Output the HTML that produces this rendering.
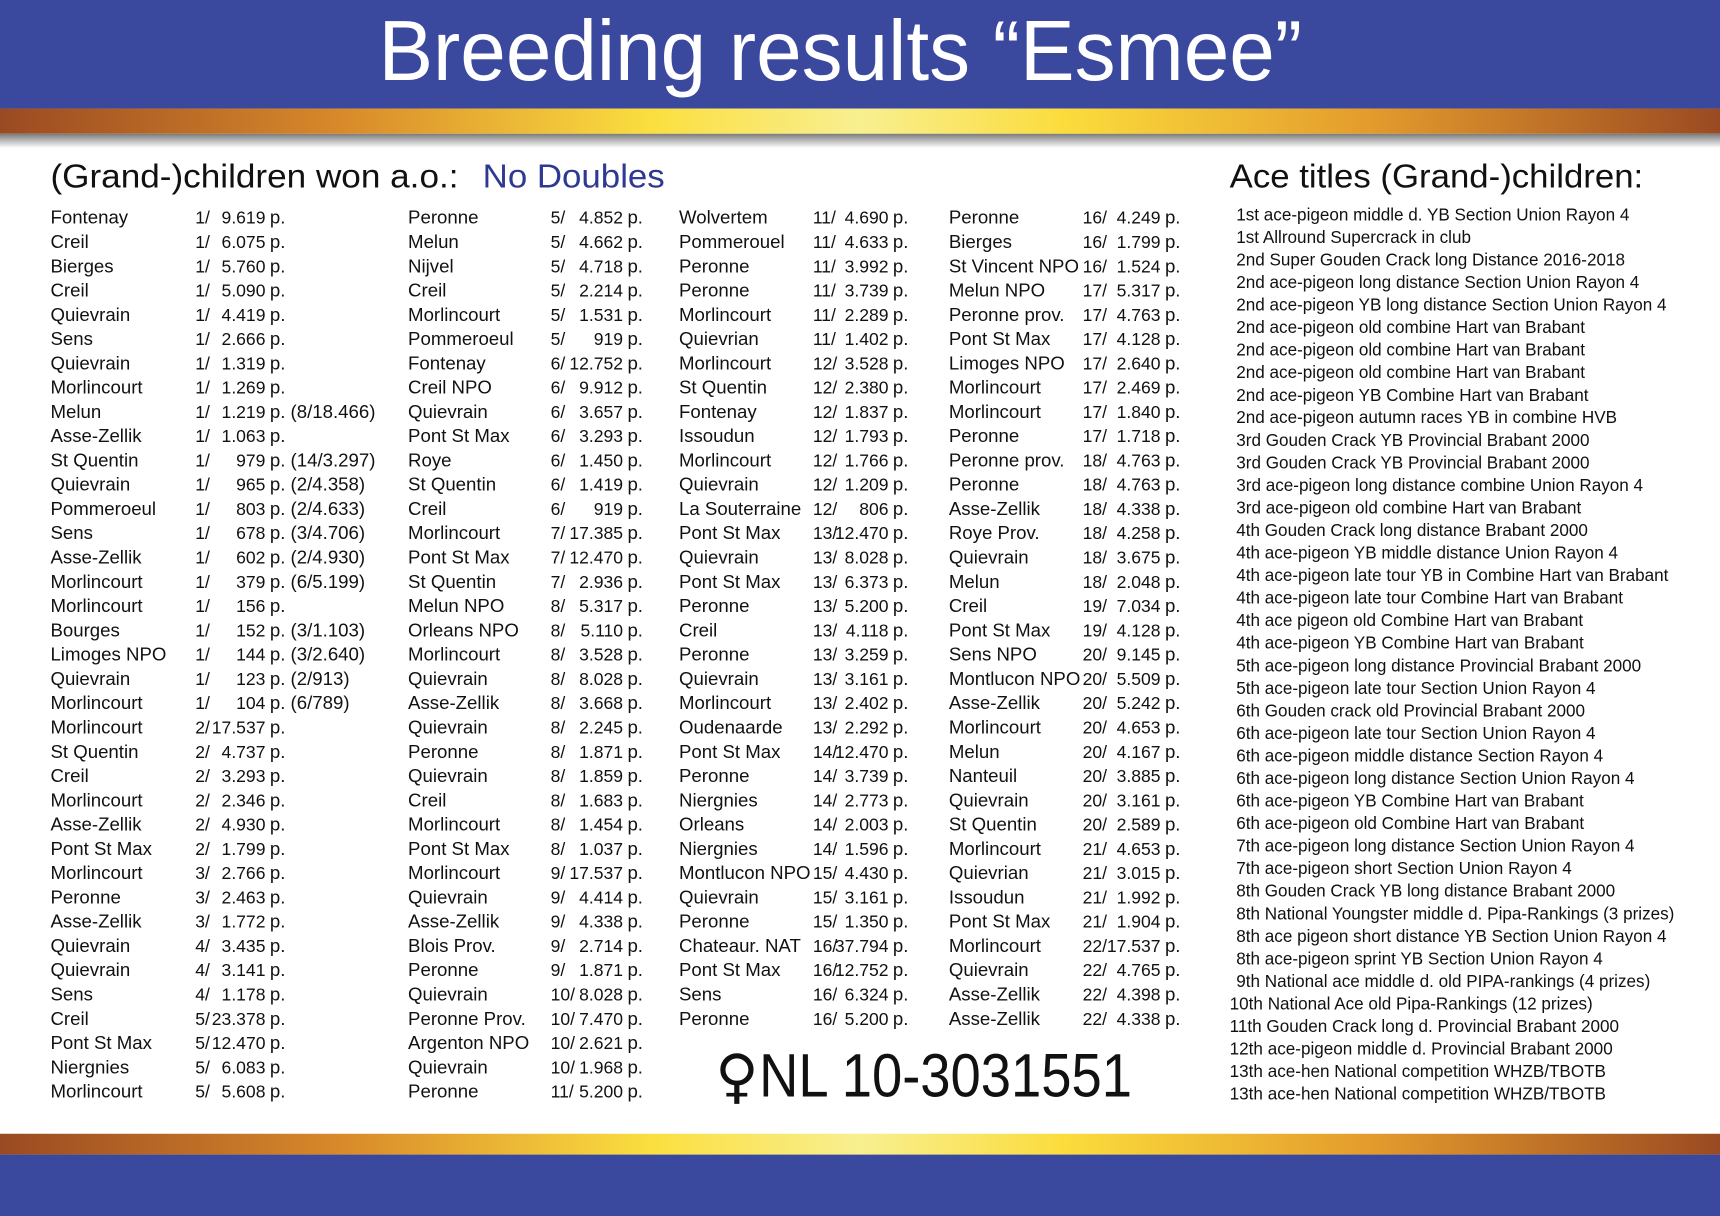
<!DOCTYPE html>
<html><head><meta charset="utf-8"><style>
html,body{margin:0;padding:0;background:#fff;}
svg{display:block;}
text{font-family:"Liberation Sans",sans-serif;fill:#111;}
.t text{font-size:17px;}
.t text.n{font-size:16px;}
.r text{font-size:15.6px;}
</style></head><body>
<svg width="1720" height="1216" viewBox="0 0 1568 1109" preserveAspectRatio="none" xmlns="http://www.w3.org/2000/svg">
<defs>
<linearGradient id="gold" x1="0" x2="1" y1="0" y2="0">
<stop offset="0" stop-color="#9a4a22"/><stop offset="0.2" stop-color="#d98a2a"/><stop offset="0.38" stop-color="#fbdf40"/><stop offset="0.5" stop-color="#f8ef90"/><stop offset="0.62" stop-color="#fbdc3c"/><stop offset="0.8" stop-color="#e39a2c"/><stop offset="1" stop-color="#9a4a22"/>
</linearGradient>
<linearGradient id="sh" x1="0" x2="0" y1="0" y2="1"><stop offset="0" stop-color="#7a7a7a"/><stop offset="1" stop-color="#fff"/></linearGradient>
</defs>
<rect x="0" y="0" width="1568" height="99" fill="#3a489e"/>
<rect x="0" y="99" width="1568" height="23" fill="url(#gold)"/>
<rect x="0" y="122" width="1568" height="13" fill="url(#sh)"/>
<rect x="0" y="1034" width="1568" height="19" fill="url(#gold)"/>
<rect x="0" y="1053" width="1568" height="56" fill="#3a489e"/>
<text x="345" y="73" font-size="78" textLength="842" lengthAdjust="spacingAndGlyphs" style="fill:#fff">Breeding results “Esmee”</text>
<text x="46" y="171" font-size="30" textLength="372" lengthAdjust="spacingAndGlyphs">(Grand-)children won a.o.:</text>
<text x="440" y="171" font-size="30" textLength="166" lengthAdjust="spacingAndGlyphs" style="fill:#2e3a92">No Doubles</text>
<text x="1121" y="171" font-size="30" textLength="377" lengthAdjust="spacingAndGlyphs">Ace titles (Grand-)children:</text>
<text x="652" y="1000" font-size="54" style="font-family:'DejaVu Sans',sans-serif">♀</text>
<text x="692" y="1000" font-size="56" textLength="340" lengthAdjust="spacingAndGlyphs">NL 10-3031551</text>

<g class="t">
<g>
<text x="46" y="204">Fontenay</text><text class="n" x="178" y="204">1/</text><text class="n" x="242" y="204" text-anchor="end">9.619</text><text x="246" y="204">p.</text>
<text x="46" y="226.1">Creil</text><text class="n" x="178" y="226.1">1/</text><text class="n" x="242" y="226.1" text-anchor="end">6.075</text><text x="246" y="226.1">p.</text>
<text x="46" y="248.3">Bierges</text><text class="n" x="178" y="248.3">1/</text><text class="n" x="242" y="248.3" text-anchor="end">5.760</text><text x="246" y="248.3">p.</text>
<text x="46" y="270.4">Creil</text><text class="n" x="178" y="270.4">1/</text><text class="n" x="242" y="270.4" text-anchor="end">5.090</text><text x="246" y="270.4">p.</text>
<text x="46" y="292.6">Quievrain</text><text class="n" x="178" y="292.6">1/</text><text class="n" x="242" y="292.6" text-anchor="end">4.419</text><text x="246" y="292.6">p.</text>
<text x="46" y="314.7">Sens</text><text class="n" x="178" y="314.7">1/</text><text class="n" x="242" y="314.7" text-anchor="end">2.666</text><text x="246" y="314.7">p.</text>
<text x="46" y="336.8">Quievrain</text><text class="n" x="178" y="336.8">1/</text><text class="n" x="242" y="336.8" text-anchor="end">1.319</text><text x="246" y="336.8">p.</text>
<text x="46" y="359">Morlincourt</text><text class="n" x="178" y="359">1/</text><text class="n" x="242" y="359" text-anchor="end">1.269</text><text x="246" y="359">p.</text>
<text x="46" y="381.1">Melun</text><text class="n" x="178" y="381.1">1/</text><text class="n" x="242" y="381.1" text-anchor="end">1.219</text><text x="246" y="381.1">p. (8/18.466)</text>
<text x="46" y="403.3">Asse-Zellik</text><text class="n" x="178" y="403.3">1/</text><text class="n" x="242" y="403.3" text-anchor="end">1.063</text><text x="246" y="403.3">p.</text>
<text x="46" y="425.4">St Quentin</text><text class="n" x="178" y="425.4">1/</text><text class="n" x="242" y="425.4" text-anchor="end">979</text><text x="246" y="425.4">p. (14/3.297)</text>
<text x="46" y="447.5">Quievrain</text><text class="n" x="178" y="447.5">1/</text><text class="n" x="242" y="447.5" text-anchor="end">965</text><text x="246" y="447.5">p. (2/4.358)</text>
<text x="46" y="469.7">Pommeroeul</text><text class="n" x="178" y="469.7">1/</text><text class="n" x="242" y="469.7" text-anchor="end">803</text><text x="246" y="469.7">p. (2/4.633)</text>
<text x="46" y="491.8">Sens</text><text class="n" x="178" y="491.8">1/</text><text class="n" x="242" y="491.8" text-anchor="end">678</text><text x="246" y="491.8">p. (3/4.706)</text>
<text x="46" y="514">Asse-Zellik</text><text class="n" x="178" y="514">1/</text><text class="n" x="242" y="514" text-anchor="end">602</text><text x="246" y="514">p. (2/4.930)</text>
<text x="46" y="536.1">Morlincourt</text><text class="n" x="178" y="536.1">1/</text><text class="n" x="242" y="536.1" text-anchor="end">379</text><text x="246" y="536.1">p. (6/5.199)</text>
<text x="46" y="558.2">Morlincourt</text><text class="n" x="178" y="558.2">1/</text><text class="n" x="242" y="558.2" text-anchor="end">156</text><text x="246" y="558.2">p.</text>
<text x="46" y="580.4">Bourges</text><text class="n" x="178" y="580.4">1/</text><text class="n" x="242" y="580.4" text-anchor="end">152</text><text x="246" y="580.4">p. (3/1.103)</text>
<text x="46" y="602.5">Limoges NPO</text><text class="n" x="178" y="602.5">1/</text><text class="n" x="242" y="602.5" text-anchor="end">144</text><text x="246" y="602.5">p. (3/2.640)</text>
<text x="46" y="624.7">Quievrain</text><text class="n" x="178" y="624.7">1/</text><text class="n" x="242" y="624.7" text-anchor="end">123</text><text x="246" y="624.7">p. (2/913)</text>
<text x="46" y="646.8">Morlincourt</text><text class="n" x="178" y="646.8">1/</text><text class="n" x="242" y="646.8" text-anchor="end">104</text><text x="246" y="646.8">p. (6/789)</text>
<text x="46" y="668.9">Morlincourt</text><text class="n" x="178" y="668.9">2/</text><text class="n" x="242" y="668.9" text-anchor="end">17.537</text><text x="246" y="668.9">p.</text>
<text x="46" y="691.1">St Quentin</text><text class="n" x="178" y="691.1">2/</text><text class="n" x="242" y="691.1" text-anchor="end">4.737</text><text x="246" y="691.1">p.</text>
<text x="46" y="713.2">Creil</text><text class="n" x="178" y="713.2">2/</text><text class="n" x="242" y="713.2" text-anchor="end">3.293</text><text x="246" y="713.2">p.</text>
<text x="46" y="735.4">Morlincourt</text><text class="n" x="178" y="735.4">2/</text><text class="n" x="242" y="735.4" text-anchor="end">2.346</text><text x="246" y="735.4">p.</text>
<text x="46" y="757.5">Asse-Zellik</text><text class="n" x="178" y="757.5">2/</text><text class="n" x="242" y="757.5" text-anchor="end">4.930</text><text x="246" y="757.5">p.</text>
<text x="46" y="779.6">Pont St Max</text><text class="n" x="178" y="779.6">2/</text><text class="n" x="242" y="779.6" text-anchor="end">1.799</text><text x="246" y="779.6">p.</text>
<text x="46" y="801.8">Morlincourt</text><text class="n" x="178" y="801.8">3/</text><text class="n" x="242" y="801.8" text-anchor="end">2.766</text><text x="246" y="801.8">p.</text>
<text x="46" y="823.9">Peronne</text><text class="n" x="178" y="823.9">3/</text><text class="n" x="242" y="823.9" text-anchor="end">2.463</text><text x="246" y="823.9">p.</text>
<text x="46" y="846.1">Asse-Zellik</text><text class="n" x="178" y="846.1">3/</text><text class="n" x="242" y="846.1" text-anchor="end">1.772</text><text x="246" y="846.1">p.</text>
<text x="46" y="868.2">Quievrain</text><text class="n" x="178" y="868.2">4/</text><text class="n" x="242" y="868.2" text-anchor="end">3.435</text><text x="246" y="868.2">p.</text>
<text x="46" y="890.3">Quievrain</text><text class="n" x="178" y="890.3">4/</text><text class="n" x="242" y="890.3" text-anchor="end">3.141</text><text x="246" y="890.3">p.</text>
<text x="46" y="912.5">Sens</text><text class="n" x="178" y="912.5">4/</text><text class="n" x="242" y="912.5" text-anchor="end">1.178</text><text x="246" y="912.5">p.</text>
<text x="46" y="934.6">Creil</text><text class="n" x="178" y="934.6">5/</text><text class="n" x="242" y="934.6" text-anchor="end">23.378</text><text x="246" y="934.6">p.</text>
<text x="46" y="956.8">Pont St Max</text><text class="n" x="178" y="956.8">5/</text><text class="n" x="242" y="956.8" text-anchor="end">12.470</text><text x="246" y="956.8">p.</text>
<text x="46" y="978.9">Niergnies</text><text class="n" x="178" y="978.9">5/</text><text class="n" x="242" y="978.9" text-anchor="end">6.083</text><text x="246" y="978.9">p.</text>
<text x="46" y="1001">Morlincourt</text><text class="n" x="178" y="1001">5/</text><text class="n" x="242" y="1001" text-anchor="end">5.608</text><text x="246" y="1001">p.</text>
</g>
<g>
<text x="372" y="204">Peronne</text><text class="n" x="502" y="204">5/</text><text class="n" x="568" y="204" text-anchor="end">4.852</text><text x="572" y="204">p.</text>
<text x="372" y="226.1">Melun</text><text class="n" x="502" y="226.1">5/</text><text class="n" x="568" y="226.1" text-anchor="end">4.662</text><text x="572" y="226.1">p.</text>
<text x="372" y="248.3">Nijvel</text><text class="n" x="502" y="248.3">5/</text><text class="n" x="568" y="248.3" text-anchor="end">4.718</text><text x="572" y="248.3">p.</text>
<text x="372" y="270.4">Creil</text><text class="n" x="502" y="270.4">5/</text><text class="n" x="568" y="270.4" text-anchor="end">2.214</text><text x="572" y="270.4">p.</text>
<text x="372" y="292.6">Morlincourt</text><text class="n" x="502" y="292.6">5/</text><text class="n" x="568" y="292.6" text-anchor="end">1.531</text><text x="572" y="292.6">p.</text>
<text x="372" y="314.7">Pommeroeul</text><text class="n" x="502" y="314.7">5/</text><text class="n" x="568" y="314.7" text-anchor="end">919</text><text x="572" y="314.7">p.</text>
<text x="372" y="336.8">Fontenay</text><text class="n" x="502" y="336.8">6/</text><text class="n" x="568" y="336.8" text-anchor="end">12.752</text><text x="572" y="336.8">p.</text>
<text x="372" y="359">Creil NPO</text><text class="n" x="502" y="359">6/</text><text class="n" x="568" y="359" text-anchor="end">9.912</text><text x="572" y="359">p.</text>
<text x="372" y="381.1">Quievrain</text><text class="n" x="502" y="381.1">6/</text><text class="n" x="568" y="381.1" text-anchor="end">3.657</text><text x="572" y="381.1">p.</text>
<text x="372" y="403.3">Pont St Max</text><text class="n" x="502" y="403.3">6/</text><text class="n" x="568" y="403.3" text-anchor="end">3.293</text><text x="572" y="403.3">p.</text>
<text x="372" y="425.4">Roye</text><text class="n" x="502" y="425.4">6/</text><text class="n" x="568" y="425.4" text-anchor="end">1.450</text><text x="572" y="425.4">p.</text>
<text x="372" y="447.5">St Quentin</text><text class="n" x="502" y="447.5">6/</text><text class="n" x="568" y="447.5" text-anchor="end">1.419</text><text x="572" y="447.5">p.</text>
<text x="372" y="469.7">Creil</text><text class="n" x="502" y="469.7">6/</text><text class="n" x="568" y="469.7" text-anchor="end">919</text><text x="572" y="469.7">p.</text>
<text x="372" y="491.8">Morlincourt</text><text class="n" x="502" y="491.8">7/</text><text class="n" x="568" y="491.8" text-anchor="end">17.385</text><text x="572" y="491.8">p.</text>
<text x="372" y="514">Pont St Max</text><text class="n" x="502" y="514">7/</text><text class="n" x="568" y="514" text-anchor="end">12.470</text><text x="572" y="514">p.</text>
<text x="372" y="536.1">St Quentin</text><text class="n" x="502" y="536.1">7/</text><text class="n" x="568" y="536.1" text-anchor="end">2.936</text><text x="572" y="536.1">p.</text>
<text x="372" y="558.2">Melun NPO</text><text class="n" x="502" y="558.2">8/</text><text class="n" x="568" y="558.2" text-anchor="end">5.317</text><text x="572" y="558.2">p.</text>
<text x="372" y="580.4">Orleans NPO</text><text class="n" x="502" y="580.4">8/</text><text class="n" x="568" y="580.4" text-anchor="end">5.110</text><text x="572" y="580.4">p.</text>
<text x="372" y="602.5">Morlincourt</text><text class="n" x="502" y="602.5">8/</text><text class="n" x="568" y="602.5" text-anchor="end">3.528</text><text x="572" y="602.5">p.</text>
<text x="372" y="624.7">Quievrain</text><text class="n" x="502" y="624.7">8/</text><text class="n" x="568" y="624.7" text-anchor="end">8.028</text><text x="572" y="624.7">p.</text>
<text x="372" y="646.8">Asse-Zellik</text><text class="n" x="502" y="646.8">8/</text><text class="n" x="568" y="646.8" text-anchor="end">3.668</text><text x="572" y="646.8">p.</text>
<text x="372" y="668.9">Quievrain</text><text class="n" x="502" y="668.9">8/</text><text class="n" x="568" y="668.9" text-anchor="end">2.245</text><text x="572" y="668.9">p.</text>
<text x="372" y="691.1">Peronne</text><text class="n" x="502" y="691.1">8/</text><text class="n" x="568" y="691.1" text-anchor="end">1.871</text><text x="572" y="691.1">p.</text>
<text x="372" y="713.2">Quievrain</text><text class="n" x="502" y="713.2">8/</text><text class="n" x="568" y="713.2" text-anchor="end">1.859</text><text x="572" y="713.2">p.</text>
<text x="372" y="735.4">Creil</text><text class="n" x="502" y="735.4">8/</text><text class="n" x="568" y="735.4" text-anchor="end">1.683</text><text x="572" y="735.4">p.</text>
<text x="372" y="757.5">Morlincourt</text><text class="n" x="502" y="757.5">8/</text><text class="n" x="568" y="757.5" text-anchor="end">1.454</text><text x="572" y="757.5">p.</text>
<text x="372" y="779.6">Pont St Max</text><text class="n" x="502" y="779.6">8/</text><text class="n" x="568" y="779.6" text-anchor="end">1.037</text><text x="572" y="779.6">p.</text>
<text x="372" y="801.8">Morlincourt</text><text class="n" x="502" y="801.8">9/</text><text class="n" x="568" y="801.8" text-anchor="end">17.537</text><text x="572" y="801.8">p.</text>
<text x="372" y="823.9">Quievrain</text><text class="n" x="502" y="823.9">9/</text><text class="n" x="568" y="823.9" text-anchor="end">4.414</text><text x="572" y="823.9">p.</text>
<text x="372" y="846.1">Asse-Zellik</text><text class="n" x="502" y="846.1">9/</text><text class="n" x="568" y="846.1" text-anchor="end">4.338</text><text x="572" y="846.1">p.</text>
<text x="372" y="868.2">Blois Prov.</text><text class="n" x="502" y="868.2">9/</text><text class="n" x="568" y="868.2" text-anchor="end">2.714</text><text x="572" y="868.2">p.</text>
<text x="372" y="890.3">Peronne</text><text class="n" x="502" y="890.3">9/</text><text class="n" x="568" y="890.3" text-anchor="end">1.871</text><text x="572" y="890.3">p.</text>
<text x="372" y="912.5">Quievrain</text><text class="n" x="502" y="912.5">10/</text><text class="n" x="568" y="912.5" text-anchor="end">8.028</text><text x="572" y="912.5">p.</text>
<text x="372" y="934.6">Peronne Prov.</text><text class="n" x="502" y="934.6">10/</text><text class="n" x="568" y="934.6" text-anchor="end">7.470</text><text x="572" y="934.6">p.</text>
<text x="372" y="956.8">Argenton NPO</text><text class="n" x="502" y="956.8">10/</text><text class="n" x="568" y="956.8" text-anchor="end">2.621</text><text x="572" y="956.8">p.</text>
<text x="372" y="978.9">Quievrain</text><text class="n" x="502" y="978.9">10/</text><text class="n" x="568" y="978.9" text-anchor="end">1.968</text><text x="572" y="978.9">p.</text>
<text x="372" y="1001">Peronne</text><text class="n" x="502" y="1001">11/</text><text class="n" x="568" y="1001" text-anchor="end">5.200</text><text x="572" y="1001">p.</text>
</g>
<g>
<text x="619" y="204">Wolvertem</text><text class="n" x="741" y="204">11/</text><text class="n" x="810" y="204" text-anchor="end">4.690</text><text x="814" y="204">p.</text>
<text x="619" y="226.1">Pommerouel</text><text class="n" x="741" y="226.1">11/</text><text class="n" x="810" y="226.1" text-anchor="end">4.633</text><text x="814" y="226.1">p.</text>
<text x="619" y="248.3">Peronne</text><text class="n" x="741" y="248.3">11/</text><text class="n" x="810" y="248.3" text-anchor="end">3.992</text><text x="814" y="248.3">p.</text>
<text x="619" y="270.4">Peronne</text><text class="n" x="741" y="270.4">11/</text><text class="n" x="810" y="270.4" text-anchor="end">3.739</text><text x="814" y="270.4">p.</text>
<text x="619" y="292.6">Morlincourt</text><text class="n" x="741" y="292.6">11/</text><text class="n" x="810" y="292.6" text-anchor="end">2.289</text><text x="814" y="292.6">p.</text>
<text x="619" y="314.7">Quievrian</text><text class="n" x="741" y="314.7">11/</text><text class="n" x="810" y="314.7" text-anchor="end">1.402</text><text x="814" y="314.7">p.</text>
<text x="619" y="336.8">Morlincourt</text><text class="n" x="741" y="336.8">12/</text><text class="n" x="810" y="336.8" text-anchor="end">3.528</text><text x="814" y="336.8">p.</text>
<text x="619" y="359">St Quentin</text><text class="n" x="741" y="359">12/</text><text class="n" x="810" y="359" text-anchor="end">2.380</text><text x="814" y="359">p.</text>
<text x="619" y="381.1">Fontenay</text><text class="n" x="741" y="381.1">12/</text><text class="n" x="810" y="381.1" text-anchor="end">1.837</text><text x="814" y="381.1">p.</text>
<text x="619" y="403.3">Issoudun</text><text class="n" x="741" y="403.3">12/</text><text class="n" x="810" y="403.3" text-anchor="end">1.793</text><text x="814" y="403.3">p.</text>
<text x="619" y="425.4">Morlincourt</text><text class="n" x="741" y="425.4">12/</text><text class="n" x="810" y="425.4" text-anchor="end">1.766</text><text x="814" y="425.4">p.</text>
<text x="619" y="447.5">Quievrain</text><text class="n" x="741" y="447.5">12/</text><text class="n" x="810" y="447.5" text-anchor="end">1.209</text><text x="814" y="447.5">p.</text>
<text x="619" y="469.7">La Souterraine</text><text class="n" x="741" y="469.7">12/</text><text class="n" x="810" y="469.7" text-anchor="end">806</text><text x="814" y="469.7">p.</text>
<text x="619" y="491.8">Pont St Max</text><text class="n" x="741" y="491.8">13/</text><text class="n" x="810" y="491.8" text-anchor="end">12.470</text><text x="814" y="491.8">p.</text>
<text x="619" y="514">Quievrain</text><text class="n" x="741" y="514">13/</text><text class="n" x="810" y="514" text-anchor="end">8.028</text><text x="814" y="514">p.</text>
<text x="619" y="536.1">Pont St Max</text><text class="n" x="741" y="536.1">13/</text><text class="n" x="810" y="536.1" text-anchor="end">6.373</text><text x="814" y="536.1">p.</text>
<text x="619" y="558.2">Peronne</text><text class="n" x="741" y="558.2">13/</text><text class="n" x="810" y="558.2" text-anchor="end">5.200</text><text x="814" y="558.2">p.</text>
<text x="619" y="580.4">Creil</text><text class="n" x="741" y="580.4">13/</text><text class="n" x="810" y="580.4" text-anchor="end">4.118</text><text x="814" y="580.4">p.</text>
<text x="619" y="602.5">Peronne</text><text class="n" x="741" y="602.5">13/</text><text class="n" x="810" y="602.5" text-anchor="end">3.259</text><text x="814" y="602.5">p.</text>
<text x="619" y="624.7">Quievrain</text><text class="n" x="741" y="624.7">13/</text><text class="n" x="810" y="624.7" text-anchor="end">3.161</text><text x="814" y="624.7">p.</text>
<text x="619" y="646.8">Morlincourt</text><text class="n" x="741" y="646.8">13/</text><text class="n" x="810" y="646.8" text-anchor="end">2.402</text><text x="814" y="646.8">p.</text>
<text x="619" y="668.9">Oudenaarde</text><text class="n" x="741" y="668.9">13/</text><text class="n" x="810" y="668.9" text-anchor="end">2.292</text><text x="814" y="668.9">p.</text>
<text x="619" y="691.1">Pont St Max</text><text class="n" x="741" y="691.1">14/</text><text class="n" x="810" y="691.1" text-anchor="end">12.470</text><text x="814" y="691.1">p.</text>
<text x="619" y="713.2">Peronne</text><text class="n" x="741" y="713.2">14/</text><text class="n" x="810" y="713.2" text-anchor="end">3.739</text><text x="814" y="713.2">p.</text>
<text x="619" y="735.4">Niergnies</text><text class="n" x="741" y="735.4">14/</text><text class="n" x="810" y="735.4" text-anchor="end">2.773</text><text x="814" y="735.4">p.</text>
<text x="619" y="757.5">Orleans</text><text class="n" x="741" y="757.5">14/</text><text class="n" x="810" y="757.5" text-anchor="end">2.003</text><text x="814" y="757.5">p.</text>
<text x="619" y="779.6">Niergnies</text><text class="n" x="741" y="779.6">14/</text><text class="n" x="810" y="779.6" text-anchor="end">1.596</text><text x="814" y="779.6">p.</text>
<text x="619" y="801.8">Montlucon NPO</text><text class="n" x="741" y="801.8">15/</text><text class="n" x="810" y="801.8" text-anchor="end">4.430</text><text x="814" y="801.8">p.</text>
<text x="619" y="823.9">Quievrain</text><text class="n" x="741" y="823.9">15/</text><text class="n" x="810" y="823.9" text-anchor="end">3.161</text><text x="814" y="823.9">p.</text>
<text x="619" y="846.1">Peronne</text><text class="n" x="741" y="846.1">15/</text><text class="n" x="810" y="846.1" text-anchor="end">1.350</text><text x="814" y="846.1">p.</text>
<text x="619" y="868.2">Chateaur. NAT</text><text class="n" x="741" y="868.2">16/</text><text class="n" x="810" y="868.2" text-anchor="end">37.794</text><text x="814" y="868.2">p.</text>
<text x="619" y="890.3">Pont St Max</text><text class="n" x="741" y="890.3">16/</text><text class="n" x="810" y="890.3" text-anchor="end">12.752</text><text x="814" y="890.3">p.</text>
<text x="619" y="912.5">Sens</text><text class="n" x="741" y="912.5">16/</text><text class="n" x="810" y="912.5" text-anchor="end">6.324</text><text x="814" y="912.5">p.</text>
<text x="619" y="934.6">Peronne</text><text class="n" x="741" y="934.6">16/</text><text class="n" x="810" y="934.6" text-anchor="end">5.200</text><text x="814" y="934.6">p.</text>
</g>
<g>
<text x="865" y="204">Peronne</text><text class="n" x="987" y="204">16/</text><text class="n" x="1058" y="204" text-anchor="end">4.249</text><text x="1062" y="204">p.</text>
<text x="865" y="226.1">Bierges</text><text class="n" x="987" y="226.1">16/</text><text class="n" x="1058" y="226.1" text-anchor="end">1.799</text><text x="1062" y="226.1">p.</text>
<text x="865" y="248.3">St Vincent NPO</text><text class="n" x="987" y="248.3">16/</text><text class="n" x="1058" y="248.3" text-anchor="end">1.524</text><text x="1062" y="248.3">p.</text>
<text x="865" y="270.4">Melun NPO</text><text class="n" x="987" y="270.4">17/</text><text class="n" x="1058" y="270.4" text-anchor="end">5.317</text><text x="1062" y="270.4">p.</text>
<text x="865" y="292.6">Peronne prov.</text><text class="n" x="987" y="292.6">17/</text><text class="n" x="1058" y="292.6" text-anchor="end">4.763</text><text x="1062" y="292.6">p.</text>
<text x="865" y="314.7">Pont St Max</text><text class="n" x="987" y="314.7">17/</text><text class="n" x="1058" y="314.7" text-anchor="end">4.128</text><text x="1062" y="314.7">p.</text>
<text x="865" y="336.8">Limoges NPO</text><text class="n" x="987" y="336.8">17/</text><text class="n" x="1058" y="336.8" text-anchor="end">2.640</text><text x="1062" y="336.8">p.</text>
<text x="865" y="359">Morlincourt</text><text class="n" x="987" y="359">17/</text><text class="n" x="1058" y="359" text-anchor="end">2.469</text><text x="1062" y="359">p.</text>
<text x="865" y="381.1">Morlincourt</text><text class="n" x="987" y="381.1">17/</text><text class="n" x="1058" y="381.1" text-anchor="end">1.840</text><text x="1062" y="381.1">p.</text>
<text x="865" y="403.3">Peronne</text><text class="n" x="987" y="403.3">17/</text><text class="n" x="1058" y="403.3" text-anchor="end">1.718</text><text x="1062" y="403.3">p.</text>
<text x="865" y="425.4">Peronne prov.</text><text class="n" x="987" y="425.4">18/</text><text class="n" x="1058" y="425.4" text-anchor="end">4.763</text><text x="1062" y="425.4">p.</text>
<text x="865" y="447.5">Peronne</text><text class="n" x="987" y="447.5">18/</text><text class="n" x="1058" y="447.5" text-anchor="end">4.763</text><text x="1062" y="447.5">p.</text>
<text x="865" y="469.7">Asse-Zellik</text><text class="n" x="987" y="469.7">18/</text><text class="n" x="1058" y="469.7" text-anchor="end">4.338</text><text x="1062" y="469.7">p.</text>
<text x="865" y="491.8">Roye Prov.</text><text class="n" x="987" y="491.8">18/</text><text class="n" x="1058" y="491.8" text-anchor="end">4.258</text><text x="1062" y="491.8">p.</text>
<text x="865" y="514">Quievrain</text><text class="n" x="987" y="514">18/</text><text class="n" x="1058" y="514" text-anchor="end">3.675</text><text x="1062" y="514">p.</text>
<text x="865" y="536.1">Melun</text><text class="n" x="987" y="536.1">18/</text><text class="n" x="1058" y="536.1" text-anchor="end">2.048</text><text x="1062" y="536.1">p.</text>
<text x="865" y="558.2">Creil</text><text class="n" x="987" y="558.2">19/</text><text class="n" x="1058" y="558.2" text-anchor="end">7.034</text><text x="1062" y="558.2">p.</text>
<text x="865" y="580.4">Pont St Max</text><text class="n" x="987" y="580.4">19/</text><text class="n" x="1058" y="580.4" text-anchor="end">4.128</text><text x="1062" y="580.4">p.</text>
<text x="865" y="602.5">Sens NPO</text><text class="n" x="987" y="602.5">20/</text><text class="n" x="1058" y="602.5" text-anchor="end">9.145</text><text x="1062" y="602.5">p.</text>
<text x="865" y="624.7">Montlucon NPO</text><text class="n" x="987" y="624.7">20/</text><text class="n" x="1058" y="624.7" text-anchor="end">5.509</text><text x="1062" y="624.7">p.</text>
<text x="865" y="646.8">Asse-Zellik</text><text class="n" x="987" y="646.8">20/</text><text class="n" x="1058" y="646.8" text-anchor="end">5.242</text><text x="1062" y="646.8">p.</text>
<text x="865" y="668.9">Morlincourt</text><text class="n" x="987" y="668.9">20/</text><text class="n" x="1058" y="668.9" text-anchor="end">4.653</text><text x="1062" y="668.9">p.</text>
<text x="865" y="691.1">Melun</text><text class="n" x="987" y="691.1">20/</text><text class="n" x="1058" y="691.1" text-anchor="end">4.167</text><text x="1062" y="691.1">p.</text>
<text x="865" y="713.2">Nanteuil</text><text class="n" x="987" y="713.2">20/</text><text class="n" x="1058" y="713.2" text-anchor="end">3.885</text><text x="1062" y="713.2">p.</text>
<text x="865" y="735.4">Quievrain</text><text class="n" x="987" y="735.4">20/</text><text class="n" x="1058" y="735.4" text-anchor="end">3.161</text><text x="1062" y="735.4">p.</text>
<text x="865" y="757.5">St Quentin</text><text class="n" x="987" y="757.5">20/</text><text class="n" x="1058" y="757.5" text-anchor="end">2.589</text><text x="1062" y="757.5">p.</text>
<text x="865" y="779.6">Morlincourt</text><text class="n" x="987" y="779.6">21/</text><text class="n" x="1058" y="779.6" text-anchor="end">4.653</text><text x="1062" y="779.6">p.</text>
<text x="865" y="801.8">Quievrian</text><text class="n" x="987" y="801.8">21/</text><text class="n" x="1058" y="801.8" text-anchor="end">3.015</text><text x="1062" y="801.8">p.</text>
<text x="865" y="823.9">Issoudun</text><text class="n" x="987" y="823.9">21/</text><text class="n" x="1058" y="823.9" text-anchor="end">1.992</text><text x="1062" y="823.9">p.</text>
<text x="865" y="846.1">Pont St Max</text><text class="n" x="987" y="846.1">21/</text><text class="n" x="1058" y="846.1" text-anchor="end">1.904</text><text x="1062" y="846.1">p.</text>
<text x="865" y="868.2">Morlincourt</text><text class="n" x="987" y="868.2">22/</text><text class="n" x="1058" y="868.2" text-anchor="end">17.537</text><text x="1062" y="868.2">p.</text>
<text x="865" y="890.3">Quievrain</text><text class="n" x="987" y="890.3">22/</text><text class="n" x="1058" y="890.3" text-anchor="end">4.765</text><text x="1062" y="890.3">p.</text>
<text x="865" y="912.5">Asse-Zellik</text><text class="n" x="987" y="912.5">22/</text><text class="n" x="1058" y="912.5" text-anchor="end">4.398</text><text x="1062" y="912.5">p.</text>
<text x="865" y="934.6">Asse-Zellik</text><text class="n" x="987" y="934.6">22/</text><text class="n" x="1058" y="934.6" text-anchor="end">4.338</text><text x="1062" y="934.6">p.</text>
</g>
</g>

<g class="r">
<text x="1127" y="201">1st ace-pigeon middle d. YB Section Union Rayon 4</text>
<text x="1127" y="221.6">1st Allround Supercrack in club</text>
<text x="1127" y="242.1">2nd Super Gouden Crack long Distance 2016-2018</text>
<text x="1127" y="262.7">2nd ace-pigeon long distance Section Union Rayon 4</text>
<text x="1127" y="283.2">2nd ace-pigeon YB long distance Section Union Rayon 4</text>
<text x="1127" y="303.8">2nd ace-pigeon old combine Hart van Brabant</text>
<text x="1127" y="324.4">2nd ace-pigeon old combine Hart van Brabant</text>
<text x="1127" y="344.9">2nd ace-pigeon old combine Hart van Brabant</text>
<text x="1127" y="365.5">2nd ace-pigeon YB Combine Hart van Brabant</text>
<text x="1127" y="386">2nd ace-pigeon autumn races YB in combine HVB</text>
<text x="1127" y="406.6">3rd Gouden Crack YB Provincial Brabant 2000</text>
<text x="1127" y="427.2">3rd Gouden Crack YB Provincial Brabant 2000</text>
<text x="1127" y="447.7">3rd ace-pigeon long distance combine Union Rayon 4</text>
<text x="1127" y="468.3">3rd ace-pigeon old combine Hart van Brabant</text>
<text x="1127" y="488.8">4th Gouden Crack long distance Brabant 2000</text>
<text x="1127" y="509.4">4th ace-pigeon YB middle distance Union Rayon 4</text>
<text x="1127" y="530">4th ace-pigeon late tour YB in Combine Hart van Brabant</text>
<text x="1127" y="550.5">4th ace-pigeon late tour Combine Hart van Brabant</text>
<text x="1127" y="571.1">4th ace pigeon old Combine Hart van Brabant</text>
<text x="1127" y="591.6">4th ace-pigeon YB Combine Hart van Brabant</text>
<text x="1127" y="612.2">5th ace-pigeon long distance Provincial Brabant 2000</text>
<text x="1127" y="632.8">5th ace-pigeon late tour Section Union Rayon 4</text>
<text x="1127" y="653.3">6th Gouden crack old Provincial Brabant 2000</text>
<text x="1127" y="673.9">6th ace-pigeon late tour Section Union Rayon 4</text>
<text x="1127" y="694.4">6th ace-pigeon middle distance Section Rayon 4</text>
<text x="1127" y="715">6th ace-pigeon long distance Section Union Rayon 4</text>
<text x="1127" y="735.6">6th ace-pigeon YB Combine Hart van Brabant</text>
<text x="1127" y="756.1">6th ace-pigeon old Combine Hart van Brabant</text>
<text x="1127" y="776.7">7th ace-pigeon long distance Section Union Rayon 4</text>
<text x="1127" y="797.2">7th ace-pigeon short Section Union Rayon 4</text>
<text x="1127" y="817.8">8th Gouden Crack YB long distance Brabant 2000</text>
<text x="1127" y="838.4">8th National Youngster middle d. Pipa-Rankings (3 prizes)</text>
<text x="1127" y="858.9">8th ace pigeon short distance YB Section Union Rayon 4</text>
<text x="1127" y="879.5">8th ace-pigeon sprint YB Section Union Rayon 4</text>
<text x="1127" y="900">9th National ace middle d. old PIPA-rankings (4 prizes)</text>
<text x="1121" y="920.6">10th National Ace old Pipa-Rankings (12 prizes)</text>
<text x="1121" y="941.2">11th Gouden Crack long d. Provincial Brabant 2000</text>
<text x="1121" y="961.7">12th ace-pigeon middle d. Provincial Brabant 2000</text>
<text x="1121" y="982.3">13th ace-hen National competition WHZB/TBOTB</text>
<text x="1121" y="1002.8">13th ace-hen National competition WHZB/TBOTB</text>
</g>
</svg>
</body></html>
